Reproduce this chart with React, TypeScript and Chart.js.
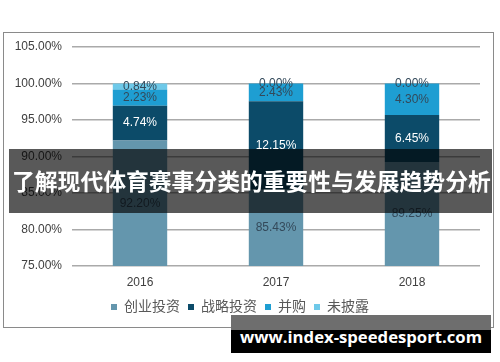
import React, { useEffect, useRef } from "react";
import { Chart, registerables } from "chart.js";

Chart.register(...registerables);

const categories = ["2016", "2017", "2018"];
const seriesNames = ["创业投资", "战略投资", "并购", "未披露"];
const ventureValues = [92.2, 85.43, 89.25];
const strategicValues = [4.74, 12.15, 6.45];
const mergerValues = [2.23, 2.43, 4.3];
const undisclosedValues = [0.84, 0.0, 0.0];
const seriesColors = ["#6496ad", "#0c4b69", "#1e9ed2", "#6ec9e9"];
const labelColors = ["#33495a", "#ffffff", "#33495a", "#33495a"];
const yMin = 75;
const yMax = 105;
const yStep = 5;
const bannerText = "了解现代体育赛事分类的重要性与发展趋势分析";
const watermarkText = "www.index-speedesport.com";

const FONT = "'Liberation Sans', Arial, 'Noto Sans CJK SC', sans-serif";

const valueLabelPlugin = {
  id: "valueLabels",
  afterDatasetsDraw(chart: any) {
    const ctx = chart.ctx;
    const area = chart.chartArea;
    ctx.save();
    ctx.font = `12px ${FONT}`;
    ctx.textAlign = "center";
    ctx.textBaseline = "middle";
    chart.data.datasets.forEach((ds: any, di: number) => {
      const meta = chart.getDatasetMeta(di);
      meta.data.forEach((el: any, i: number) => {
        const v = ds.data[i];
        const top = Math.max(el.y, area.top);
        const bottom = Math.min(el.base, area.bottom);
        const cy = (top + bottom) / 2;
        ctx.fillStyle = labelColors[di];
        ctx.fillText(v.toFixed(2) + "%", el.x, cy);
      });
    });
    ctx.restore();
  },
};

export default function App() {
  const ref = useRef<HTMLCanvasElement>(null);
  useEffect(() => {
    if (!ref.current) return;
    const values = [ventureValues, strategicValues, mergerValues, undisclosedValues];
    const chart = new Chart(ref.current, {
      type: "bar",
      data: {
        labels: categories,
        datasets: seriesNames.map((name, i) => ({
          label: name,
          data: values[i],
          backgroundColor: seriesColors[i],
          borderWidth: 0,
          barPercentage: 0.4,
          categoryPercentage: 1,
        })),
      },
      options: {
        responsive: false,
        animation: false,
        layout: { padding: { left: 0, right: 20, top: 47, bottom: 38 } },
        plugins: {
          tooltip: { enabled: false },
          legend: {
            position: "bottom",
            labels: {
              boxWidth: 6,
              boxHeight: 6,
              padding: 8,
              color: "#595959",
              font: { size: 14, family: FONT },
            },
          },
        },
        scales: {
          x: {
            stacked: true,
            grid: { display: false, drawTicks: false },
            border: { display: false },
            ticks: { color: "#404040", font: { size: 12, family: FONT }, padding: 9 },
            afterFit: (s: any) => {
              s.height = 26;
            },
          },
          y: {
            stacked: true,
            min: yMin,
            max: yMax,
            grid: { color: "#aaaaaa", lineWidth: 1.5, drawTicks: false },
            border: { display: false },
            ticks: {
              stepSize: yStep,
              padding: 10,
              color: "#404040",
              font: { size: 12, family: FONT },
              callback: (v: any) => Number(v).toFixed(2) + "%",
            },
            afterFit: (s: any) => {
              s.width = 72;
            },
          },
        },
      },
      plugins: [valueLabelPlugin],
    });
    return () => chart.destroy();
  }, []);

  return (
    <div style={{ position: "absolute", left: 0, top: 0, width: 500, height: 362, background: "#fff", overflow: "hidden" }}>
      <div style={{ position: "absolute", left: 3, top: 32, width: 489, height: 294, border: "1px solid #8a8a8a" }} />
      <canvas ref={ref} width={500} height={362} style={{ position: "absolute", left: 0, top: 0 }} />
      <div
        style={{
          position: "absolute",
          left: 9,
          top: 149,
          width: 483,
          height: 64,
          background: "rgba(0,0,0,0.65)",
        }}
      />
      <div
        style={{
          position: "absolute",
          left: 12,
          top: 149,
          height: 64,
          lineHeight: "64px",
          color: "#fff",
          fontWeight: 700,
          fontSize: 22.8,
          whiteSpace: "nowrap",
          fontFamily: "'Noto Sans CJK SC', sans-serif",
        }}
      >
        {bannerText}
      </div>
      <div style={{ position: "absolute", left: 231, top: 315, width: 260, height: 15, background: "#6e6e6e" }} />
      <div style={{ position: "absolute", left: 231, top: 330, width: 260, height: 23, background: "#000" }} />
      <div
        style={{
          position: "absolute",
          left: 231,
          top: 323,
          width: 260,
          height: 28,
          lineHeight: "28px",
          textAlign: "center",
          color: "#fff",
          fontWeight: 700,
          fontSize: 16.7,
          whiteSpace: "nowrap",
          fontFamily: "'Open Sans', sans-serif",
        }}
      >
        {watermarkText}
      </div>
    </div>
  );
}
